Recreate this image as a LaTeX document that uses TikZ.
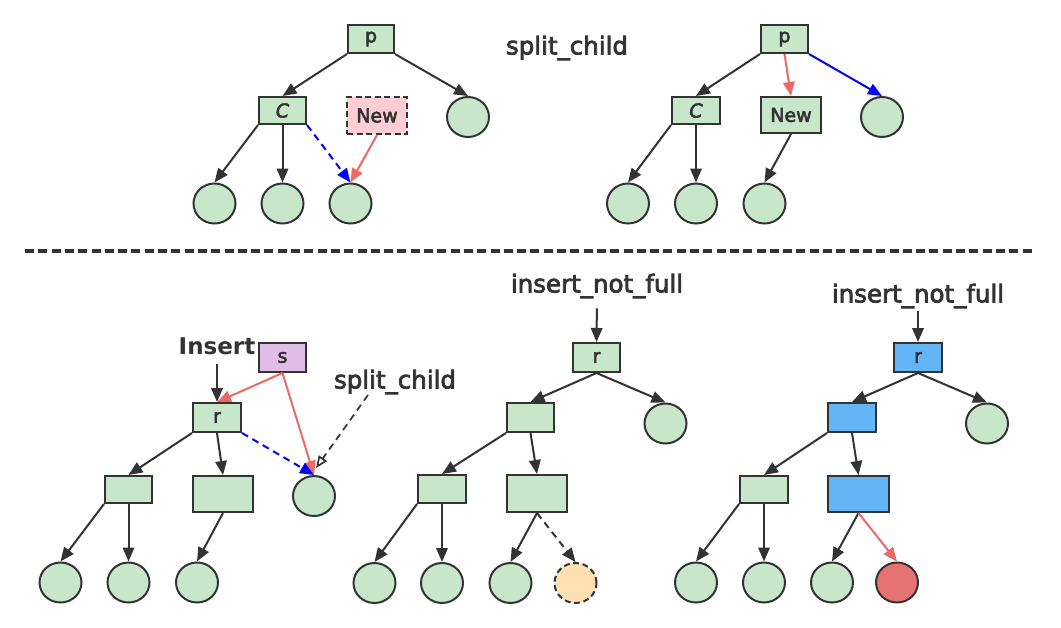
\documentclass[tikz,border=0pt]{standalone}
\usepackage{fontspec}
\setmainfont{DejaVu Sans}
\newfontfamily\lblfont{DejaVu Sans}[FakeBold=3]
\usetikzlibrary{arrows.meta,shapes.geometric}
\definecolor{gr}{HTML}{C8E6C9}
\definecolor{dk}{HTML}{333333}
\definecolor{rl}{HTML}{EA6B66}
\definecolor{pk}{HTML}{FFCDD2}
\definecolor{pu}{HTML}{E1BEE7}
\definecolor{bl}{HTML}{64B5F6}
\definecolor{rc}{HTML}{E57373}
\definecolor{og}{HTML}{FFE0B2}
\definecolor{bline}{HTML}{0000FF}
\tikzset{
  bx/.style={draw=dk, fill=gr, line width=2pt, inner sep=0pt, text=dk, font=\lblfont\fontsize{19}{21}\selectfont},
  lf/.style={ellipse, draw=dk, fill=gr, line width=2pt, minimum width=42, minimum height=40, inner sep=0pt},
  ar/.style={draw=dk, line width=2pt, -{Triangle[length=14pt,width=11.5pt]}},
  rar/.style={ar, draw=rl, color=rl},
  bar/.style={ar, draw=bline, color=bline},
  lbl/.style={text=dk, font=\lblfont\fontsize{24.5}{27}\selectfont, inner sep=0pt},
  dsh/.style={dash pattern=on 7pt off 5pt},
}
\begin{document}
\begin{tikzpicture}[x=1pt,y=-1pt]
\path[use as bounding box, fill=white] (0,0) rectangle (1061,627);

% ---------- top left ----------
\node[bx, minimum width=46, minimum height=28] (p1) at (371,39) {p};
\node[bx, minimum width=47, minimum height=27] (c1) at (282.5,110.5) {\textit{C}};
\node[bx, fill=pk, dashed, dash pattern=on 6pt off 3.5pt, minimum width=60, minimum height=37] (n1) at (377,115.5) {New};
\node[lf] (r1) at (468,117) {};
\node[lf] (a1) at (214.5,203.5) {};
\node[lf] (a2) at (282.5,203.5) {};
\node[lf] (a3) at (350.5,203.5) {};
\draw[ar] (p1.south west) -- (c1.north);
\draw[ar] (p1.south east) -- (r1.north);
\draw[ar] (c1.south west) -- (a1.north);
\draw[ar] (c1.south) -- (a2.north);
\draw[bar, dsh] (c1.south east) -- (a3.north);
\draw[rar] (n1.south) -- (a3.north);

\node[lbl] (t1) at (567,48) {split\_child};

% ---------- top right ----------
\node[bx, minimum width=47, minimum height=28] (p2) at (784.5,39) {p};
\node[bx, minimum width=48, minimum height=27] (c2) at (696,110.5) {\textit{C}};
\node[bx, minimum width=60, minimum height=36] (n2) at (791,115) {New};
\node[lf] (r2) at (882,117) {};
\node[lf] (b1) at (628,203.5) {};
\node[lf] (b2) at (696,203.5) {};
\node[lf] (b3) at (764.5,203.5) {};
\draw[ar] (p2.south west) -- (c2.north);
\draw[rar] (p2.south) -- (n2.north);
\draw[bar] (p2.south east) -- (r2.north);
\draw[ar] (c2.south west) -- (b1.north);
\draw[ar] (c2.south) -- (b2.north);
\draw[ar] (n2.south) -- (b3.north);

% ---------- separator ----------
\coordinate (sepL) at (25,251);
\coordinate (sepR) at (1034,251);
\draw[dk, line width=4.5pt, dash pattern=on 9pt off 4.3pt] (sepL) -- (sepR);

% ---------- bottom left ----------
\node[text=dk, font=\bfseries\fontsize{23}{25}\selectfont, inner sep=0pt] (ins) at (217,346) {Insert};
\node[bx, fill=pu, minimum width=47, minimum height=29] (s) at (282.5,357.5) {s};
\node[bx, minimum width=48, minimum height=29] (rr) at (217,417.5) {r};
\node[bx, minimum width=47, minimum height=27] (u1) at (128.5,489.5) {};
\node[bx, minimum width=60, minimum height=36] (u2) at (223,494) {};
\node[lf] (u3) at (314,496) {};
\node[lf] (v1) at (60.5,582.5) {};
\node[lf] (v2) at (128.5,582.5) {};
\node[lf] (v3) at (197,582.5) {};
\draw[ar, shorten <=9pt] (ins.south) -- (rr.north);
\draw[rar] (s.south) -- (rr.north);
\draw[rar] (s.south) -- (u3.north);
\draw[bar, dsh] (rr.south east) -- (u3.north);
\draw[ar] (rr.south west) -- (u1.north);
\draw[ar] (rr.south) -- (u2.north);
\draw[ar] (u1.south west) -- (v1.north);
\draw[ar] (u1.south) -- (v2.north);
\draw[ar] (u2.south) -- (v3.north);
\node[lbl] (t2) at (395,382) {split\_child};
\coordinate (cs) at (368,395);
\coordinate (ce) at (316,468);
\draw[dk, line width=1.7pt, dsh, -{Triangle[open,fill=white,length=12pt,width=10pt]}] (cs) -- (ce);

% ---------- bottom middle ----------
\node[lbl] (t3) at (597,286) {insert\_not\_full};
\node[bx, minimum width=47, minimum height=29] (m0) at (596.5,357.5) {r};
\node[bx, minimum width=47, minimum height=29] (mA) at (530.5,417.5) {};
\node[lf] (mR) at (665.5,423.5) {};
\node[bx, minimum width=48, minimum height=28] (mB) at (442,489) {};
\node[bx, minimum width=60, minimum height=37] (mC) at (537,493.5) {};
\node[lf] (m1) at (374.5,583) {};
\node[lf] (m2) at (442,583) {};
\node[lf] (m3) at (510.5,583) {};
\node[lf, fill=og, dashed, dash pattern=on 6pt off 3.5pt] (m4) at (575.5,583) {};
\draw[ar, shorten <=10pt] (t3.south) -- (m0.north);
\draw[ar] (m0.south) -- (mA.north);
\draw[ar] (m0.south) -- (mR.north);
\draw[ar] (mA.south west) -- (mB.north);
\draw[ar] (mA.south) -- (mC.north);
\draw[ar] (mB.south west) -- (m1.north);
\draw[ar] (mB.south) -- (m2.north);
\draw[ar] (mC.south) -- (m3.north);
\draw[ar, dsh] (mC.south) -- (m4.north);

% ---------- bottom right ----------
\node[lbl] (t4) at (918,296) {insert\_not\_full};
\node[bx, fill=bl, minimum width=48, minimum height=29] (k0) at (918,357.5) {r};
\node[bx, fill=bl, minimum width=48, minimum height=29] (kA) at (852,417.5) {};
\node[lf] (kR) at (987,423.5) {};
\node[bx, minimum width=48, minimum height=27] (kB) at (764,489.5) {};
\node[bx, fill=bl, minimum width=61, minimum height=36] (kC) at (858.5,494) {};
\node[lf] (k1) at (696,582.5) {};
\node[lf] (k2) at (764,582.5) {};
\node[lf] (k3) at (832,582.5) {};
\node[lf, fill=rc] (k4) at (897,582.5) {};
\draw[ar, shorten <=3pt] (t4.south) -- (k0.north);
\draw[ar] (k0.south) -- (kA.north);
\draw[ar] (k0.south) -- (kR.north);
\draw[ar] (kA.south west) -- (kB.north);
\draw[ar] (kA.south) -- (kC.north);
\draw[ar] (kB.south west) -- (k1.north);
\draw[ar] (kB.south) -- (k2.north);
\draw[ar] (kC.south) -- (k3.north);
\draw[rar] (kC.south) -- (k4.north);
\end{tikzpicture}
\end{document}
